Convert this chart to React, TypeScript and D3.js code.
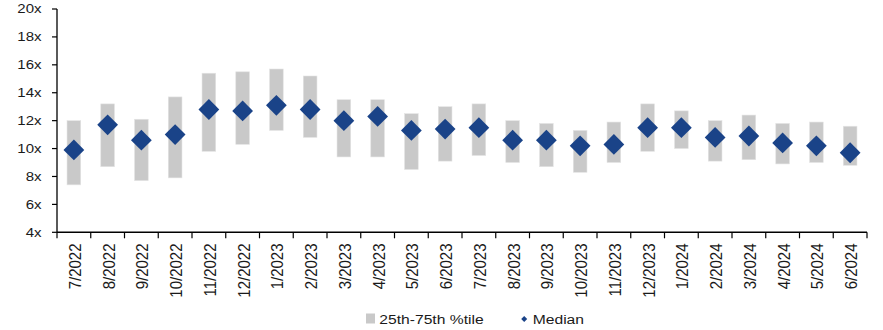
import React from "react";
import * as d3 from "d3";

// Monthly categories
const months = [
  "7/2022", "8/2022", "9/2022", "10/2022", "11/2022", "12/2022",
  "1/2023", "2/2023", "3/2023", "4/2023", "5/2023", "6/2023",
  "7/2023", "8/2023", "9/2023", "10/2023", "11/2023", "12/2023",
  "1/2024", "2/2024", "3/2024", "4/2024", "5/2024", "6/2024",
];

// 25th percentile multiples
const p25 = [
  7.4, 8.7, 7.7, 7.9, 9.8, 10.3, 11.3, 10.8, 9.4, 9.4, 8.5, 9.1,
  9.5, 9.0, 8.7, 8.3, 9.0, 9.8, 10.0, 9.1, 9.2, 8.9, 9.0, 8.8,
];

// 75th percentile multiples
const p75 = [
  12.0, 13.2, 12.1, 13.7, 15.4, 15.5, 15.7, 15.2, 13.5, 13.5, 12.5, 13.0,
  13.2, 12.0, 11.8, 11.3, 11.9, 13.2, 12.7, 12.0, 12.4, 11.8, 11.9, 11.6,
];

// Median multiples
const median = [
  9.9, 11.7, 10.6, 11.0, 12.8, 12.7, 13.1, 12.8, 12.0, 12.3, 11.3, 11.4,
  11.5, 10.6, 10.6, 10.2, 10.3, 11.5, 11.5, 10.8, 10.9, 10.4, 10.2, 9.7,
];

const yTicks = [4, 6, 8, 10, 12, 14, 16, 18, 20];

const legendLabels = ["25th-75th %tile", "Median"];

const W = 883;
const H = 330;
const FONT = "'Liberation Sans', Arial, sans-serif";
const BAR_COLOR = "#c9c9c9";
const DOT_COLOR = "#1a4388";
const AXIS_COLOR = "#000";
const TEXT_COLOR = "#1a1a1a";

export default function App() {
  const plotLeft = 57;
  const plotRight = 867;
  const plotTop = 9;
  const plotBottom = 232.3;

  const x = d3.scaleBand<string>().domain(months).range([plotLeft, plotRight]).padding(0);
  const y = d3.scaleLinear().domain([4, 20]).range([plotBottom, plotTop]);

  const barW = 13.7;
  const diamond = d3.symbol().type(d3.symbolSquare).size(216)() as string;
  const legendDiamond = d3.symbol().type(d3.symbolSquare).size(18)() as string;

  const bw = x.bandwidth();
  const tickXs = months.map((m) => x(m) as number).concat([plotRight]);

  return (
    <svg
      width={W}
      height={H}
      style={{ position: "absolute", left: 0, top: 0, background: "#fff" }}
      fontFamily={FONT}
    >
      {/* interquartile bars */}
      <g>
        {months.map((m, i) => (
          <rect
            key={m}
            x={(x(m) as number) + bw / 2 - barW / 2}
            y={y(p75[i])}
            width={barW}
            height={y(p25[i]) - y(p75[i])}
            fill={BAR_COLOR}
            stroke="#e4e4e4"
            strokeWidth={0.6}
          />
        ))}
      </g>

      {/* median markers */}
      <g>
        {months.map((m, i) => (
          <path
            key={m}
            d={diamond}
            transform={`translate(${(x(m) as number) + bw / 2},${y(median[i])}) rotate(45)`}
            fill={DOT_COLOR}
          />
        ))}
      </g>

      {/* y axis */}
      <line x1={plotLeft} x2={plotLeft} y1={plotTop} y2={plotBottom} stroke={AXIS_COLOR} strokeWidth={1.3} />
      {yTicks.map((t) => (
        <g key={t}>
          <line x1={plotLeft - 5} x2={plotLeft} y1={y(t)} y2={y(t)} stroke={AXIS_COLOR} strokeWidth={1.2} />
          <text
            transform={`translate(41.5,${y(t)}) scale(1.25,1)`}
            textAnchor="end"
            dy="0.36em"
            fontSize={12}
            fill={TEXT_COLOR}
          >
            {`${t}x`}
          </text>
        </g>
      ))}

      {/* x axis */}
      <line x1={plotLeft} x2={plotRight} y1={plotBottom} y2={plotBottom} stroke={AXIS_COLOR} strokeWidth={1.5} />
      {tickXs.map((tx, i) => (
        <line key={i} x1={tx} x2={tx} y1={plotBottom} y2={plotBottom + 6} stroke={AXIS_COLOR} strokeWidth={1.2} />
      ))}
      {months.map((m) => (
        <text
          key={m}
          transform={`translate(${(x(m) as number) + bw / 2 + 0.8},243.5) scale(1.16,1) rotate(-90)`}
          textAnchor="end"
          dy="0.36em"
          fontSize={15}
          fill={TEXT_COLOR}
        >
          {m}
        </text>
      ))}

      {/* legend */}
      <g>
        <rect x={366} y={313.5} width={9} height={10} fill={BAR_COLOR} />
        <text transform="translate(379.3,323.5) scale(1.16,1)" fontSize={13.5} fill={TEXT_COLOR}>
          {legendLabels[0]}
        </text>
        <path d={legendDiamond} transform="translate(524.2,319) rotate(45)" fill={DOT_COLOR} />
        <text transform="translate(532.7,323.5) scale(1.16,1)" fontSize={13.5} fill={TEXT_COLOR}>
          {legendLabels[1]}
        </text>
      </g>
    </svg>
  );
}
